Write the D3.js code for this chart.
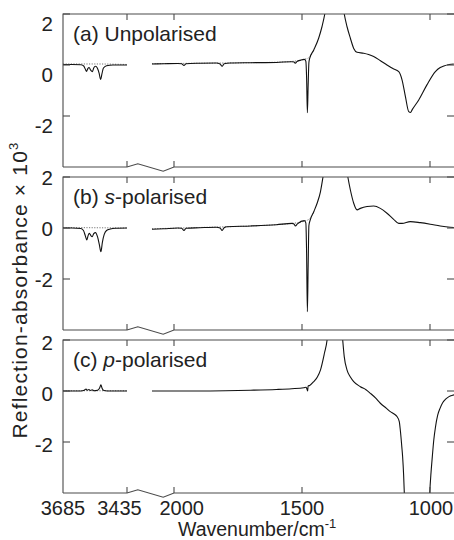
<!DOCTYPE html>
<html>
<head>
<meta charset="utf-8">
<script src="https://cdn.jsdelivr.net/npm/d3@7"></script>
<style>
  html, body { margin: 0; padding: 0; background: #fff; }
  svg { display: block; font-family: "Liberation Sans", Arial, sans-serif; }
</style>
</head>
<body>
<svg id="chart" width="454" height="540"></svg>
<script>
// ---------- data (wavenumber / cm-1, reflection-absorbance x 10^3) ----------
const xTicksLeft = [3685, 3435];
const xTicksRight = [2000, 1500, 1000];
const yTicks = [2, 0, -2];
const panelNames = ["(a) ", "(b) ", "(c) "];
const panelPol = ["Unpolarised", "s", "p"];

const aLeft = [[3685,0.02],[3650,0.02],[3615,0.01],[3604,-0.04],[3598,-0.16],[3593,-0.25],[3588,-0.14],[3583,-0.1],[3577,-0.2],[3570,-0.26],[3565,-0.12],[3558,-0.05],[3551,-0.12],[3544,-0.32],[3538,-0.57],[3533,-0.35],[3527,-0.12],[3515,-0.03],[3490,0.0],[3435,0.0]];
const aDotLeft = [[3685,0.04],[3560,0.04],[3435,0.02]];
const aRight = [[2086,0.04],[2040,0.05],[1985,0.06],[1970,0.05],[1961,-0.02],[1953,0.05],[1900,0.07],[1835,0.08],[1820,0.04],[1812,-0.05],[1804,0.05],[1780,0.08],[1700,0.09],[1600,0.1],[1540,0.13],[1531,0.12],[1526,0.07],[1520,0.13],[1505,0.19],[1491,0.22],[1485,0.15],[1482,-0.5],[1479,-1.87],[1476,-0.8],[1473,0.1],[1470,0.26],[1454,0.59],[1435,1.05],[1422,1.5],[1411,2.0],[1395,3.2],[1375,4.5],[1355,3.6],[1335,2.0],[1324,1.5],[1311,1.05],[1298,0.65],[1285,0.5],[1259,0.46],[1240,0.41],[1220,0.33],[1195,0.18],[1168,0.0],[1145,-0.14],[1122,-0.26],[1109,-0.59],[1096,-1.24],[1083,-1.83],[1076,-1.86],[1070,-1.76],[1044,-1.37],[1012,-0.78],[979,-0.26],[960,-0.1],[946,-0.04],[925,0.02],[907,0.04]];
const aDotRight = [[2086,0.05],[1900,0.07],[1700,0.09],[1600,0.11],[1540,0.14],[1505,0.19],[1490,0.23],[1478,0.26],[1468,0.33],[1454,0.59]];

const bLeft = [[3685,0.0],[3650,0.0],[3615,-0.02],[3605,-0.1],[3598,-0.3],[3592,-0.47],[3587,-0.3],[3582,-0.21],[3576,-0.3],[3571,-0.34],[3565,-0.22],[3558,-0.18],[3550,-0.35],[3543,-0.65],[3537,-0.93],[3531,-0.55],[3524,-0.25],[3515,-0.1],[3500,-0.04],[3480,-0.01],[3435,0.0]];
const bDotLeft = [[3685,0.02],[3560,0.01],[3435,0.0]];
const bRight = [[2086,-0.05],[2040,-0.03],[1985,0.0],[1970,-0.01],[1961,-0.1],[1953,-0.01],[1900,0.01],[1835,0.03],[1820,0.0],[1812,-0.1],[1804,0.01],[1793,0.05],[1700,0.08],[1600,0.13],[1539,0.18],[1531,0.15],[1526,0.08],[1518,0.16],[1491,0.29],[1485,0.2],[1482,-1.0],[1479,-3.28],[1476,-1.5],[1473,0.1],[1468,0.31],[1454,0.64],[1441,0.97],[1428,1.42],[1418,2.0],[1400,3.2],[1370,4.5],[1340,3.2],[1321,2.0],[1311,1.49],[1298,0.97],[1285,0.71],[1272,0.77],[1246,0.84],[1220,0.86],[1194,0.77],[1168,0.58],[1142,0.34],[1122,0.18],[1109,0.18],[1077,0.25],[1038,0.21],[999,0.15],[960,0.08],[921,0.03],[907,0.02]];
const bDotRight = [[2086,-0.03],[1900,0.02],[1700,0.08],[1600,0.13],[1539,0.18],[1510,0.22],[1490,0.27],[1475,0.33],[1462,0.47],[1454,0.64]];

const cLeft = [[3685,0.0],[3615,0.0],[3602,0.03],[3595,0.08],[3590,0.03],[3584,0.06],[3578,0.02],[3571,0.05],[3564,0.01],[3550,0.03],[3542,0.12],[3537,0.24],[3532,0.1],[3525,0.02],[3500,0.0],[3435,0.0]];
const cDotLeft = [[3685,0.01],[3435,0.01]];
const cRight = [[2086,0.0],[1900,0.0],[1800,0.01],[1700,0.03],[1600,0.06],[1540,0.09],[1493,0.13],[1484,0.15],[1480,0.06],[1478,0.0],[1476,0.2],[1470,0.22],[1454,0.37],[1440,0.55],[1428,0.82],[1412,1.5],[1402,2.0],[1390,3.5],[1370,5.0],[1352,3.5],[1341,2.0],[1335,1.35],[1324,0.82],[1311,0.55],[1298,0.37],[1272,0.17],[1250,0.05],[1233,-0.09],[1212,-0.28],[1194,-0.48],[1170,-0.68],[1155,-0.81],[1140,-0.9],[1129,-1.0],[1120,-1.2],[1116,-1.53],[1110,-2.2],[1107,-2.57],[1103,-3.3],[1100,-4.1],[1090,-7],[1050,-11],[1010,-7],[1001,-4.0],[996,-3.2],[992,-2.7],[985,-1.9],[979,-1.44],[970,-0.95],[960,-0.66],[950,-0.45],[940,-0.33],[930,-0.25],[921,-0.2],[906,-0.15]];
const cDotRight = [];

const series = [
  {left: aLeft, right: aRight, dotLeft: aDotLeft, dotRight: aDotRight},
  {left: bLeft, right: bRight, dotLeft: bDotLeft, dotRight: bDotRight},
  {left: cLeft, right: cRight, dotLeft: cDotLeft, dotRight: cDotRight}
];

// ---------- layout ----------
const plotL = 63, plotR = 454;
const tops = [14, 177, 340];
const ph = 153;
const labelShift = [17, 7.5, 10];   // y tick label baseline offsets (as in the figure)
const axisColor = "#4a4a4a";
const fs = 20.5;

const svg = d3.select("#chart");
const xL = d3.scaleLinear().domain([3685, 3435]).range([63, 127]);
const xR = d3.scaleLinear().domain([2000, 1000]).range([174, 430]);

series.forEach((s, i) => {
  const top = tops[i], bot = top + ph;
  const y = d3.scaleLinear().domain([-4, 2]).range([bot, top]);
  const g = svg.append("g");

  const clipId = "clip" + i;
  svg.append("clipPath").attr("id", clipId)
    .append("rect").attr("x", plotL).attr("y", top).attr("width", plotR - plotL).attr("height", ph);

  const lineL = d3.line().x(d => xL(d[0])).y(d => y(d[1])).curve(d3.curveMonotoneX);
  const lineR = d3.line().x(d => xR(d[0])).y(d => y(d[1])).curve(d3.curveMonotoneX);

  const dg = g.append("g").attr("clip-path", `url(#${clipId})`);
  [[s.dotLeft, lineL], [s.dotRight, lineR]].forEach(([d, ln]) => {
    if (d.length) dg.append("path").attr("d", ln(d)).attr("fill", "none")
      .attr("stroke", "#777").attr("stroke-width", 1).attr("stroke-dasharray", "1.2,1.4");
  });
  [[s.left, lineL], [s.right, lineR]].forEach(([d, ln]) => {
    dg.append("path").attr("d", ln(d)).attr("fill", "none")
      .attr("stroke", "#111").attr("stroke-width", 1.1).attr("stroke-linejoin", "round");
  });

  // frame with axis break on the bottom
  const b0 = xL(3435), b1 = xR(2000);
  const frame = d3.path();
  frame.moveTo(plotL, bot); frame.lineTo(plotL, top); frame.lineTo(plotR, top);
  frame.moveTo(plotL, bot); frame.lineTo(b0, bot);
  frame.lineTo(b0 + (b1 - b0) * 0.23, bot - 3.3);
  frame.lineTo(b0 + (b1 - b0) * 0.77, bot + 4.2);
  frame.lineTo(b1, bot); frame.lineTo(plotR, bot);
  g.append("path").attr("d", frame.toString()).attr("fill", "none")
    .attr("stroke", axisColor).attr("stroke-width", 1.1);

  // x ticks (top and bottom, inward)
  const xt = [xL(3435)].concat(xTicksRight.map(xR));
  xt.forEach(x => {
    g.append("line").attr("x1", x).attr("x2", x).attr("y1", top).attr("y2", top + 6)
      .attr("stroke", axisColor).attr("stroke-width", 1.1);
    g.append("line").attr("x1", x).attr("x2", x).attr("y1", bot).attr("y2", bot - 6)
      .attr("stroke", axisColor).attr("stroke-width", 1.1);
  });
  // y ticks (left and right, inward)
  yTicks.forEach(t => {
    g.append("line").attr("x1", plotL).attr("x2", plotL + 7).attr("y1", y(t)).attr("y2", y(t))
      .attr("stroke", axisColor).attr("stroke-width", 1.1);
    g.append("line").attr("x1", plotR).attr("x2", plotR - 7).attr("y1", y(t)).attr("y2", y(t))
      .attr("stroke", axisColor).attr("stroke-width", 1.1);
    g.append("text").attr("x", 53).attr("y", y(t) + labelShift[i])
      .attr("text-anchor", "end").attr("font-size", fs).attr("fill", "#222").text(t);
  });

  // panel label
  const lab = g.append("text").attr("x", 73).attr("y", top + 27).attr("font-size", 21).attr("fill", "#222");
  lab.append("tspan").text(panelNames[i]);
  if (i === 0) lab.append("tspan").text(panelPol[i]);
  else {
    lab.append("tspan").attr("font-style", "italic").text(panelPol[i]);
    lab.append("tspan").text("-polarised");
  }

  // bottom tick labels
  if (i === 2) {
    const xlab = [[xL(3685), 3685], [xL(3435) - 7.5, 3435], [xR(2000) + 7.7, 2000], [xR(1500), 1500], [xR(1000) + 1, 1000]];
    xlab.forEach(([x, t]) => {
      g.append("text").attr("x", x).attr("y", 514.5).attr("text-anchor", "middle")
        .attr("font-size", 20).attr("fill", "#222").text(t);
    });
  }
});

// axis titles
const yt = svg.append("text").attr("transform", "translate(27,290) rotate(-90)")
  .attr("text-anchor", "middle").attr("font-size", 21).attr("letter-spacing", 1.2).attr("fill", "#222");
yt.append("tspan").text("Reflection-absorbance × 10");
yt.append("tspan").attr("font-size", 13).attr("dy", -9).text("3");

const xtitle = svg.append("text").attr("x", 178).attr("y", 535.5)
  .attr("font-size", 19.5).attr("fill", "#222");
xtitle.append("tspan").text("Wavenumber/cm");
xtitle.append("tspan").attr("font-size", 13).attr("dy", -8).text("-1");
</script>
</body>
</html>
